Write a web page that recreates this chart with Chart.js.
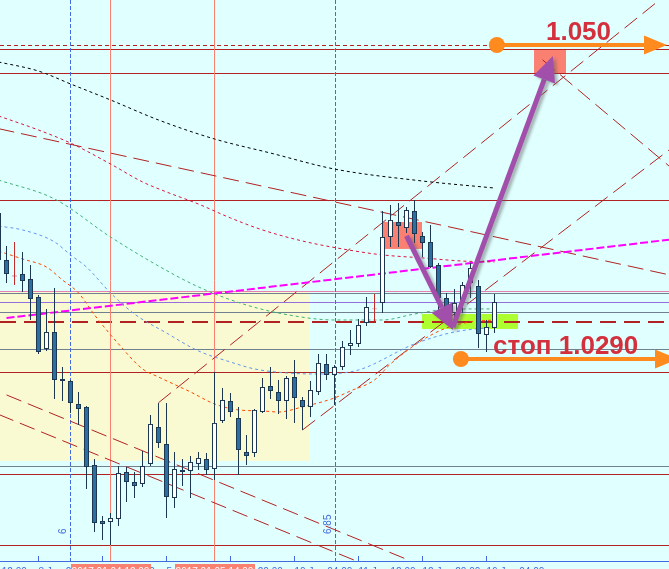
<!DOCTYPE html>
<html>
<head>
<meta charset="utf-8">
<script src="https://cdn.jsdelivr.net/npm/chart.js@4.4.0/dist/chart.umd.min.js"></script>
<style>
  html, body { margin: 0; padding: 0; background: #E0FFFF; overflow: hidden; }
  canvas { display: block; }
</style>
</head>
<body>
<canvas id="chart" width="669" height="569"></canvas>
<script>
// H4 candles, bar index along the time axis
const bars = [-1, 0, 1, 2, 3, 4, 5, 6, 7, 8, 9, 10, 11, 12, 13, 14, 15, 16, 17, 18, 19, 20,
  21, 22, 23, 24, 25, 26, 27, 28, 29, 30, 31, 32, 33, 34, 35, 36, 37, 38, 39, 40,
  41, 42, 43, 44, 45, 46, 47, 48, 49, 50, 51, 52, 53, 54, 55, 56, 57, 58, 59, 60, 61];
const open = [1.03876, 1.03562, 1.03458, 1.03469, 1.03435, 1.03315, 1.02967, 1.03081, 1.02767, 1.02753,
  1.02600, 1.02580, 1.02192, 1.01818, 1.01811, 1.01831, 1.02145, 1.02078, 1.02065, 1.02199,
  1.02446, 1.02332, 1.01971, 1.02159, 1.02152, 1.02199, 1.02232, 1.02165, 1.02486, 1.02620,
  1.02506, 1.02279, 1.02272, 1.02546, 1.02720, 1.02680, 1.02620, 1.02780, 1.02626, 1.02580,
  1.02680, 1.02867, 1.02794, 1.02847, 1.02987, 1.03001, 1.03141, 1.03238, 1.03275, 1.03716,
  1.03816, 1.03776, 1.03890, 1.03723, 1.03683, 1.03529, 1.03308, 1.03208, 1.03281, 1.03408,
  1.03388, 1.03061, 1.03108];
const high = [1.03930, 1.03656, 1.03683, 1.03616, 1.03529, 1.03328, 1.03235, 1.03375, 1.02847, 1.02760,
  1.02680, 1.02586, 1.02232, 1.01851, 1.01871, 1.02185, 1.02179, 1.02145, 1.02286, 1.02526,
  1.02606, 1.02606, 1.02279, 1.02232, 1.02252, 1.02279, 1.02272, 1.02814, 1.02707, 1.02673,
  1.02580, 1.02392, 1.02566, 1.02773, 1.02847, 1.02760, 1.02787, 1.02894, 1.02646, 1.02753,
  1.02934, 1.02934, 1.02860, 1.03021, 1.03094, 1.03168, 1.03315, 1.03335, 1.03890, 1.03930,
  1.03943, 1.03916, 1.03963, 1.03749, 1.03796, 1.03542, 1.03342, 1.03368, 1.03415, 1.03542,
  1.03428, 1.03161, 1.03335];
const low = [1.03529, 1.03408, 1.03395, 1.03348, 1.03161, 1.02934, 1.02954, 1.02633, 1.02620, 1.02540,
  1.02459, 1.02032, 1.01744, 1.01691, 1.01657, 1.01784, 1.01945, 1.01971, 1.02045, 1.02185,
  1.02306, 1.01838, 1.01905, 1.02052, 1.01971, 1.02159, 1.02125, 1.02092, 1.02473, 1.02513,
  1.02125, 1.02192, 1.02245, 1.02540, 1.02633, 1.02533, 1.02499, 1.02473, 1.02426, 1.02513,
  1.02660, 1.02760, 1.02593, 1.02827, 1.02927, 1.02981, 1.03121, 1.03154, 1.03208, 1.03649,
  1.03649, 1.03743, 1.03676, 1.03582, 1.03509, 1.03215, 1.03188, 1.03161, 1.03208, 1.03308,
  1.02974, 1.02947, 1.03074];
const close = [1.03562, 1.03469, 1.03452, 1.03422, 1.03301, 1.02947, 1.03081, 1.02760, 1.02753, 1.02606,
  1.02566, 1.02179, 1.01804, 1.01798, 1.01838, 1.02138, 1.02078, 1.02052, 1.02185, 1.02466,
  1.02339, 1.01978, 1.02165, 1.02145, 1.02212, 1.02239, 1.02159, 1.02473, 1.02626, 1.02546,
  1.02292, 1.02252, 1.02560, 1.02713, 1.02687, 1.02620, 1.02773, 1.02640, 1.02580, 1.02693,
  1.02874, 1.02794, 1.02847, 1.02981, 1.03007, 1.03128, 1.03248, 1.03232, 1.03716, 1.03830,
  1.03789, 1.03896, 1.03736, 1.03676, 1.03515, 1.03308, 1.03248, 1.03275, 1.03395, 1.03509,
  1.03068, 1.03114, 1.03281];

// moving averages (read at a few bars each)
const maBlackIdx = [-1, 4, 8, 13, 19, 26, 33, 41, 52, 61];
const maBlack = [1.04886, 1.04825, 1.04739, 1.04632, 1.04498, 1.04371, 1.04277, 1.04170, 1.04090, 1.04043];
const maCrimsonIdx = [-1, 4, 8, 13, 17, 20, 24, 28, 32, 37, 42, 47, 52, 57, 61];
const maCrimson = [1.04525, 1.04431, 1.04344, 1.04204, 1.04084, 1.04017, 1.03936, 1.03843, 1.03763,
  1.03689, 1.03636, 1.03596, 1.03576, 1.03555, 1.03549];
const maGreenIdx = [-1, 6, 13, 19, 24, 30, 36, 41, 47, 51, 56, 61];
const maGreen = [1.04097, 1.03970, 1.03716, 1.03522, 1.03382, 1.03261, 1.03188, 1.03161, 1.03161,
  1.03201, 1.03235, 1.03235];
const maBlueIdx = [-1, 2, 6, 8, 10, 13, 16, 20, 24, 28, 31, 35, 39, 44, 51, 56, 61];
const maBlue = [1.03789, 1.03763, 1.03683, 1.03596, 1.03515, 1.03342, 1.03201, 1.03074, 1.02954,
  1.02880, 1.02834, 1.02807, 1.02800, 1.02827, 1.03001, 1.03081, 1.03114];
const maOrangeIdx = [-1, 2, 5, 7, 9, 11, 14, 17, 19, 23, 26, 29, 32, 34, 37, 41, 43, 46, 48, 52, 55, 58, 61];
const maOrange = [1.03622, 1.03569, 1.03515, 1.03428, 1.03342, 1.03195, 1.03001, 1.02834, 1.02780,
  1.02680, 1.02600, 1.02560, 1.02553, 1.02546, 1.02580, 1.02640, 1.02687, 1.02760, 1.02867,
  1.03027, 1.03108, 1.03148, 1.03161];

// trend lines: [bar from, bar to] and [price from, price to]
const trendIdx = [[-1, 83], [0, 50], [-1, 44], [19, 82], [37, 83], [67, 83]];
const trendPrice = [[1.04440, 1.03461], [1.02660, 1.01562], [1.02530, 1.01544],
  [1.02608, 1.05316], [1.02426, 1.04305], [1.04900, 1.04182]];
const magentaIdx = [0, 83];
const magentaPrice = [1.03174, 1.03699];

// horizontal levels
const redLevels = [1.04972, 1.04812, 1.03963, 1.02814, 1.02132, 1.01657];
const redDashLevels = [1.0500];
const redLongDashLevels = [1.03148];
const grayLevels = [1.03342, 1.03215, 1.02967, 1.02185];
const pinkLevels = [1.03355];
const purpleLevels = [1.03281];

// vertical lines (bar index) and their tags
const blueTimes = [8, 41.125];
const blueTags = ['6', '6.85'];
const salmonTimes = [13, 26];
const salmonTags = ['2017.01.04 12:00', '2017.01.05 14:00'];

// zones: [bar from, bar to, price top, price bottom]
const yellowZone = [-1, 37.94, 1.03348, 1.02219];
const salmonZones = [[47.06, 51.94, 1.03816, 1.03636], [65.94, 69.94, 1.04972, 1.04812]];
const greenZone = [51.94, 63.94, 1.03201, 1.03101];

// trade arrows
const targetArrow = [61.3, 82.56, 1.0500];
const stopArrow = [56.8, 83.94, 1.0290];
const moveArrows = [[50, 1.03723, 55.8, 1.03094], [55.8, 1.03114, 68.3, 1.04926]];
const targetText = ['1.050', 71.5];
const stopText = ['стоп 1.0290', 69.9];

// time axis
const tickIdx = [-4, 4, 12, 20, 28, 36, 44, 52, 60];
const tickLabels = ['2 Jan 12:00', '3 Jan 20:00', '4 Jan 04:00', '5 Jan 12:00', '6 Jan 20:00',
  '10 Jan 04:00', '11 Jan 12:00', '12 Jan 20:00', '16 Jan 04:00'];

const isDoji = i => Math.abs(open[i] - close[i]) < 0.0001;
const bodyColors = bars.map((b, i) => isDoji(i) ? '#C42B2B' : (close[i] < open[i] ? '#2B6FA3' : '#FFFFFF'));
const edgeColors = bars.map((b, i) => isDoji(i) ? '#C42B2B' : '#1E3750');

function maSet(idx, vals, color) {
  return {
    type: 'line', data: idx.map((k, i) => ({x: k, y: vals[i]})),
    borderColor: color, borderWidth: 1, borderDash: [3, 3], pointRadius: 0,
    fill: false, cubicInterpolationMode: 'monotone', order: 3
  };
}
function lineSet(idx, vals, color, width, dash) {
  return {
    type: 'line', data: idx.map((k, i) => ({x: k, y: vals[i]})),
    borderColor: color, borderWidth: width, borderDash: dash, pointRadius: 0,
    fill: false, tension: 0, order: 4
  };
}

function arrowTo(ctx, x0, y0, x1, y1, w, hl, hw) {
  const a = Math.atan2(y1 - y0, x1 - x0);
  const bx = x1 - hl * Math.cos(a), by = y1 - hl * Math.sin(a);
  ctx.lineWidth = w;
  ctx.beginPath(); ctx.moveTo(x0, y0); ctx.lineTo(bx, by); ctx.stroke();
  ctx.beginPath();
  ctx.moveTo(x1, y1);
  ctx.lineTo(bx + hw / 2 * Math.sin(a), by - hw / 2 * Math.cos(a));
  ctx.lineTo(bx - hw / 2 * Math.sin(a), by + hw / 2 * Math.cos(a));
  ctx.closePath(); ctx.fill();
}

const overlay = {
  id: 'overlay',
  beforeDraw(chart) {
    const ctx = chart.ctx;
    ctx.save();
    ctx.fillStyle = '#E0FFFF';
    ctx.fillRect(0, 0, chart.width, chart.height);
    ctx.restore();
  },
  beforeDatasetsDraw(chart) {
    const {ctx, chartArea: area, scales: {x, y}} = chart;
    const X = v => x.getPixelForValue(v), Y = v => y.getPixelForValue(v);
    const box = (z, color) => {
      ctx.fillStyle = color;
      ctx.fillRect(X(z[0]), Y(z[2]), X(z[1]) - X(z[0]), Y(z[3]) - Y(z[2]));
    };
    const hline = (p, color, w, dash) => {
      const yy = Math.round(Y(p)) + (w % 2 ? 0.5 : 0);
      ctx.strokeStyle = color; ctx.lineWidth = w; ctx.setLineDash(dash || []);
      ctx.beginPath(); ctx.moveTo(area.left, yy); ctx.lineTo(area.right, yy); ctx.stroke();
    };
    const vline = (k, color, dash) => {
      const xx = Math.floor(X(k)) + 0.5;
      ctx.strokeStyle = color; ctx.lineWidth = 1; ctx.setLineDash(dash || []);
      ctx.beginPath(); ctx.moveTo(xx, area.top); ctx.lineTo(xx, area.bottom); ctx.stroke();
    };
    ctx.save();
    box(yellowZone, '#FAFAD2');
    salmonZones.forEach(z => box(z, '#FA8072'));
    box(greenZone, '#ADFF2F');
    grayLevels.forEach(p => hline(p, '#708090', 1));
    pinkLevels.forEach(p => hline(p, '#E77FB0', 1));
    purpleLevels.forEach(p => hline(p, '#9370DB', 1));
    redLevels.forEach(p => hline(p, '#B22222', 1));
    redDashLevels.forEach(p => hline(p, '#B22222', 1, [4, 3]));
    redLongDashLevels.forEach(p => hline(p, '#B22222', 2, [16, 8]));
    salmonTimes.forEach(k => vline(k, '#FA8072'));
    blueTimes.forEach(k => vline(k, '#4169E1', [4, 2]));
    ctx.restore();
  },
  afterDatasetsDraw(chart) {
    const {ctx, scales: {x, y}} = chart;
    const X = v => x.getPixelForValue(v), Y = v => y.getPixelForValue(v);
    ctx.save();
    // purple move arrows
    ctx.strokeStyle = '#A24FAB'; ctx.fillStyle = '#A24FAB';
    ctx.shadowColor = 'rgba(90,90,90,0.45)'; ctx.shadowBlur = 3;
    ctx.shadowOffsetX = 3; ctx.shadowOffsetY = 2;
    moveArrows.forEach(m => arrowTo(ctx, X(m[0]), Y(m[1]), X(m[2]), Y(m[3]), 5, 25, 23));
    ctx.shadowColor = 'transparent';
    // orange target / stop arrows
    ctx.strokeStyle = '#FF8A1E'; ctx.fillStyle = '#FF8A1E';
    [targetArrow, stopArrow].forEach(a => {
      const yy = Math.round(Y(a[2]));
      arrowTo(ctx, X(a[0]), yy, X(a[1]), yy, 4, 23, 19);
      ctx.beginPath(); ctx.arc(X(a[0]), yy, 8, 0, Math.PI * 2); ctx.fill();
    });
    // labels
    ctx.fillStyle = '#D42F3C';
    ctx.font = 'bold 26px "Liberation Sans", Arial, sans-serif';
    ctx.textAlign = 'center'; ctx.textBaseline = 'alphabetic';
    ctx.fillText(targetText[0], X(targetText[1]), Math.round(Y(targetArrow[2])) - 5);
    ctx.fillText(stopText[0], X(stopText[1]), Math.round(Y(stopArrow[2])) - 5);
    ctx.restore();
  },
  afterDraw(chart) {
    const {ctx, chartArea: area, scales: {x}} = chart;
    const X = v => x.getPixelForValue(v);
    ctx.save();
    // tick marks pointing up from the time axis
    ctx.strokeStyle = '#4169E1'; ctx.lineWidth = 1;
    tickIdx.forEach(k => {
      const xx = Math.floor(X(k)) + 0.5;
      ctx.beginPath(); ctx.moveTo(xx, area.bottom - 5); ctx.lineTo(xx, area.bottom); ctx.stroke();
    });
    // vertical line time tags
    ctx.font = '10px "Liberation Sans", Arial, sans-serif';
    ctx.textBaseline = 'top'; ctx.textAlign = 'center';
    salmonTimes.forEach((k, i) => {
      const w = ctx.measureText(salmonTags[i]).width + 2;
      const xx = Math.floor(X(k)) + 0.5;
      ctx.fillStyle = '#FA8072';
      ctx.fillRect(Math.round(xx - w / 2), area.bottom + 3, Math.round(w), 12);
      ctx.fillStyle = '#FFFFFF';
      ctx.fillText(salmonTags[i], xx, area.bottom + 6);
    });
    // rotated descriptions of the blue lines
    ctx.fillStyle = '#4169E1';
    ctx.textAlign = 'left'; ctx.textBaseline = 'bottom';
    blueTimes.forEach((k, i) => {
      ctx.save();
      ctx.translate(Math.floor(X(k)) - 2, area.bottom - 27);
      ctx.rotate(-Math.PI / 2);
      ctx.fillText(blueTags[i], 0, 0);
      ctx.restore();
    });
    ctx.restore();
  }
};

const datasets = [
  {
    type: 'bar', data: bars.map((k, i) => ({x: k, y: [open[i], close[i]]})),
    backgroundColor: bodyColors, borderColor: edgeColors, borderWidth: 1, borderSkipped: false,
    barThickness: 5, grouped: false, inflateAmount: 0, order: 0
  },
  {
    type: 'bar', data: bars.map((k, i) => ({x: k, y: [low[i], high[i]]})),
    backgroundColor: edgeColors, borderWidth: 0, barThickness: 1, grouped: false,
    inflateAmount: 0, order: 1
  },
  maSet(maBlackIdx, maBlack, '#000000'),
  maSet(maCrimsonIdx, maCrimson, '#DC143C'),
  maSet(maGreenIdx, maGreen, '#3CB371'),
  maSet(maBlueIdx, maBlue, '#6495ED'),
  maSet(maOrangeIdx, maOrange, '#FF4500'),
  lineSet(magentaIdx, magentaPrice, '#FF00FF', 2, [8, 3])
];
trendIdx.forEach((t, i) => datasets.push(lineSet(t, trendPrice[i], '#B22222', 1, [16, 7])));

new Chart(document.getElementById('chart'), {
  type: 'bar',
  data: { datasets: datasets },
  options: {
    responsive: false,
    animation: false,
    devicePixelRatio: 1,
    events: [],
    layout: { padding: 0 },
    plugins: { legend: { display: false }, tooltip: { enabled: false } },
    scales: {
      x: {
        type: 'linear', min: -0.8125, max: 82.8125, offset: false,
        grid: { display: false, drawTicks: false },
        border: { display: true, color: '#4169E1', width: 1 },
        afterBuildTicks: s => { s.ticks = tickIdx.map(v => ({ value: v })); },
        afterFit: s => {
          s.height = 8;
          s.paddingLeft = 0; s.paddingRight = 0; s.paddingTop = 0; s.paddingBottom = 0;
        },
        ticks: {
          autoSkip: false, maxRotation: 0, minRotation: 0, align: 'start', padding: 5,
          color: '#4169E1', font: { family: 'Liberation Sans', size: 10 },
          callback: (v, i) => tickLabels[i]
        }
      },
      y: { type: 'linear', min: 1.0155, max: 1.0530, display: false }
    }
  },
  plugins: [overlay]
});
</script>
</body>
</html>
